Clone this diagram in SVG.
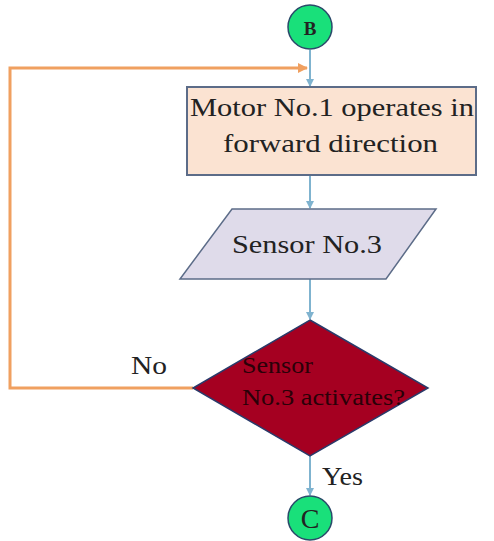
<svg xmlns="http://www.w3.org/2000/svg" width="494" height="541" viewBox="0 0 494 541">
<defs>
<marker id="ab" markerWidth="8" markerHeight="8" refX="7" refY="4" orient="auto" markerUnits="userSpaceOnUse"><path d="M0,0 L8,4 L0,8 z" fill="#7fb3cf"/></marker>
<marker id="ao" markerWidth="10" markerHeight="10" refX="9" refY="5" orient="auto" markerUnits="userSpaceOnUse"><path d="M0,0 L10,5 L0,10 z" fill="#f0a060"/></marker>
</defs>
<rect width="494" height="541" fill="#fff"/>
<g id="connectors" stroke="#7fb3cf" stroke-width="2" fill="none">
<line x1="310" y1="50" x2="310" y2="86" marker-end="url(#ab)"/>
<polyline stroke="#f0a060" stroke-width="3" points="193,388 10,388 10,68 307,68" marker-end="url(#ao)"/>
<line x1="310" y1="175" x2="310" y2="208" marker-end="url(#ab)"/>
<line x1="310" y1="279" x2="310" y2="319" marker-end="url(#ab)"/>
<line x1="310" y1="456" x2="310" y2="495" marker-end="url(#ab)"/>
<text stroke="none" fill="#222" font-family="Liberation Serif" x="131" y="374" font-size="25" textLength="36" lengthAdjust="spacingAndGlyphs">No</text>
<text stroke="none" fill="#222" font-family="Liberation Serif" x="322" y="485" font-size="25" textLength="41" lengthAdjust="spacingAndGlyphs">Yes</text>
</g>
<g id="B">
<circle fill="#19e07a" stroke="#2a4a6a" stroke-width="1.5" cx="310" cy="27" r="22"/>
<text fill="#222" font-family="Liberation Serif" x="310" y="35" font-size="19" font-weight="bold" text-anchor="middle">B</text>
</g>
<g id="motor">
<rect x="187" y="87" width="289" height="88" fill="#fbe3d2" stroke="#5c6c88" stroke-width="2"/>
<text fill="#222" font-family="Liberation Serif" x="190" y="116" font-size="26" textLength="284" lengthAdjust="spacingAndGlyphs">Motor No.1 operates in</text>
<text fill="#222" font-family="Liberation Serif" x="223" y="152" font-size="26" textLength="215" lengthAdjust="spacingAndGlyphs">forward direction</text>
</g>
<g id="sensor">
<polygon points="232,209 436,209 386,279 180,279" fill="#dfdbea" stroke="#5c6c88" stroke-width="1.5"/>
<text fill="#222" font-family="Liberation Serif" x="232" y="253" font-size="26" textLength="150" lengthAdjust="spacingAndGlyphs">Sensor No.3</text>
</g>
<g id="decision">
<polygon points="310,320 428,388 310,456 193,388" fill="#a50021" stroke="#2a3a6a" stroke-width="1.5"/>
<text fill="#2a0008" font-family="Liberation Serif" x="242" y="373" font-size="24" textLength="71" lengthAdjust="spacingAndGlyphs">Sensor</text>
<text fill="#2a0008" font-family="Liberation Serif" x="242" y="405" font-size="24" textLength="163" lengthAdjust="spacingAndGlyphs">No.3 activates?</text>
</g>
<g id="C">
<circle fill="#19e07a" stroke="#2a4a6a" stroke-width="1.5" cx="310" cy="518" r="22"/>
<text fill="#222" font-family="Liberation Serif" x="310" y="528" font-size="28" text-anchor="middle">C</text>
</g>
</svg>
